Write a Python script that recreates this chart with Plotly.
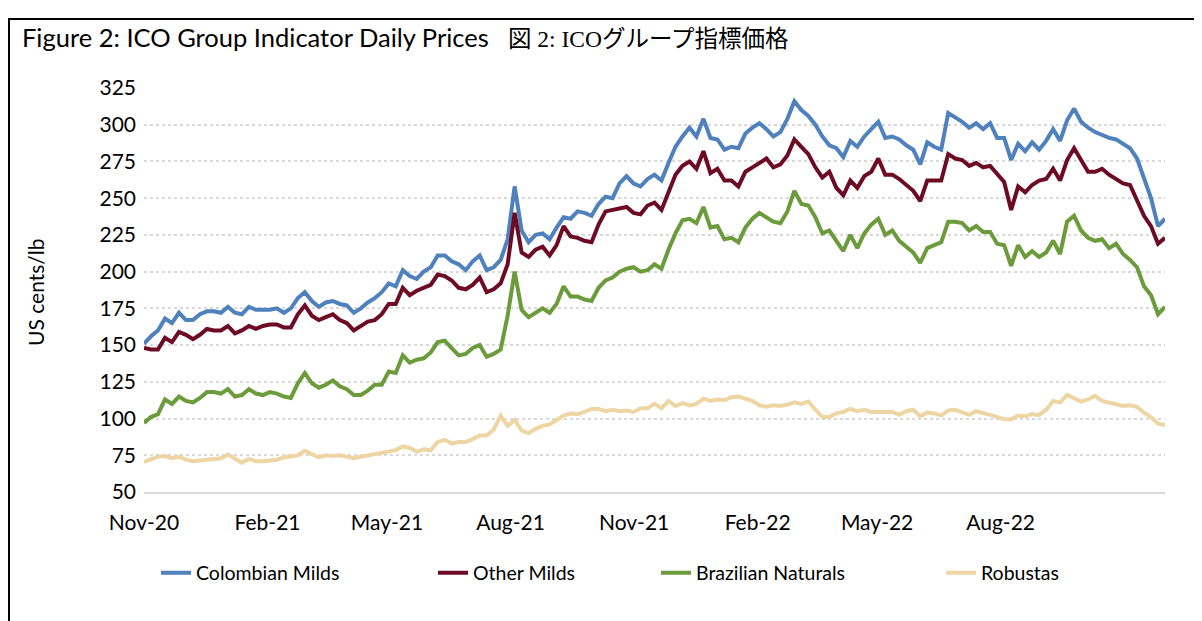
import pandas as pd
import plotly.graph_objects as go

# ---- data (US cents/lb), one reading every 125 hours from 1 Nov 2020 ----
start_date = "2020-11-01"
step = "125h"

colombian_milds = [
    151, 156, 160, 168, 165, 172, 167, 167, 171, 173, 173, 172, 176, 172, 171, 176, 174, 174, 174, 175,
    172, 175, 182, 186, 180, 176, 179, 180, 178, 177,
    172, 175, 179, 182, 186, 192, 190, 201, 197, 195, 200, 203, 211, 211, 207, 205, 201, 207, 211, 201,
    203, 208, 222, 258, 228, 220, 225, 226, 222, 230,
    237, 236, 241, 240, 238, 246, 251, 250, 260, 265, 260, 258, 263, 266, 262, 274, 285, 292, 298, 292,
    304, 291, 290, 283, 285, 284, 294, 298, 301, 297,
    292, 295, 304, 316, 310, 306, 300, 292, 286, 284, 278, 289, 285, 292, 297, 302, 291, 292, 290, 286,
    283, 273, 288, 285, 283, 308, 305, 302, 298, 301,
    297, 301, 291, 291, 276, 287, 282, 288, 283, 289, 297, 289, 303, 311, 302, 298, 295, 293, 291, 290,
    287, 284, 277, 263, 250, 231, 236,
]

other_milds = [
    148, 147, 147, 155, 152, 159, 157, 154, 157, 161, 160, 160, 163, 158, 160, 163, 161, 163, 164, 164,
    162, 162, 171, 177, 170, 167, 169, 171, 167, 165,
    160, 163, 166, 167, 171, 178, 178, 189, 184, 187, 189, 191, 198, 197, 194, 189, 188, 191, 196, 186,
    188, 192, 205, 240, 213, 210, 215, 217, 211, 218,
    231, 224, 223, 221, 220, 232, 241, 242, 243, 244, 240, 239, 245, 247, 242, 255, 266, 272, 275, 270,
    282, 267, 270, 262, 262, 258, 268, 271, 274, 277,
    271, 273, 279, 290, 285, 280, 271, 264, 268, 257, 252, 262, 257, 265, 268, 277, 266, 266, 263, 259,
    255, 248, 262, 262, 262, 280, 277, 276, 272, 274,
    271, 272, 267, 261, 242, 258, 254, 259, 262, 263, 270, 262, 276, 284, 276, 268, 268, 270, 266, 263,
    260, 259, 248, 238, 231, 219, 223,
]

brazilian_naturals = [
    97, 101, 103, 113, 110, 115, 112, 111, 114, 118, 118, 117, 120, 115, 116, 120, 117, 116, 118, 117,
    115, 114, 124, 131, 124, 121, 123, 126, 122, 120,
    116, 116, 119, 123, 123, 132, 131, 143, 138, 140, 141, 145, 152, 153, 148, 143, 144, 148, 150, 142,
    144, 147, 170, 200, 174, 169, 172, 175, 172, 178,
    190, 183, 183, 181, 180, 189, 194, 196, 200, 202, 203, 200, 201, 205, 202, 215, 226, 235, 236, 233,
    244, 230, 231, 222, 223, 220, 230, 236, 240, 237,
    234, 233, 241, 255, 246, 245, 237, 226, 228, 221, 214, 225, 216, 226, 232, 236, 225, 228, 221, 217,
    213, 206, 216, 218, 220, 234, 234, 233, 228, 231,
    227, 227, 219, 218, 204, 218, 210, 214, 210, 213, 221, 212, 234, 238, 228, 223, 221, 222, 216, 219,
    212, 208, 203, 190, 184, 171, 176,
]

robustas = [
    70.5, 72, 74, 74.5, 73, 74, 72, 71, 71.5, 72.5, 73, 73, 75.5, 72.5, 70, 72.5, 71, 71, 71.5, 72,
    73.5, 74, 75, 78, 75.5, 73.5, 75, 74.5, 75, 74,
    73, 74, 75, 75.5, 76.5, 78, 78.5, 81, 80, 77.5, 79, 78.5, 84, 85.5, 83, 84, 84, 86, 88.5, 88.5,
    92.5, 102, 95, 99, 92, 90, 93, 95, 96, 99,
    102, 103.5, 103, 104.5, 106.5, 106.5, 105, 106, 105, 105.5, 104.5, 107, 107, 110, 107, 112, 108.5, 110.5, 109, 110,
    113.5, 112, 113, 112.5, 114.5, 115, 113.5, 112, 109, 108,
    109, 108.5, 109.5, 111, 110, 111.5, 106, 101, 101, 103.5, 104.5, 106.5, 105, 106, 104.5, 104.5, 104, 104.5, 102.5, 105,
    106, 101.5, 104, 103.5, 102, 105.5, 106, 104.5, 102.5, 105,
    104, 102.5, 101, 99.5, 99.5, 102, 101.5, 103, 102.5, 106, 112, 111, 116, 114, 111.5, 113, 115.5, 112, 111, 110,
    108.5, 109, 108, 104, 101, 96.5, 95.5,
]

series_names = ["Colombian Milds", "Other Milds", "Brazilian Naturals", "Robustas"]
series_values = [colombian_milds, other_milds, brazilian_naturals, robustas]
series_colors = ["#4F81BD", "#6E0B24", "#6B9B3A", "#EDD6A3"]

x_tick_dates = ["2020-11-01", "2021-02-01", "2021-05-01", "2021-08-01",
                "2021-11-01", "2022-02-01", "2022-05-01", "2022-08-01"]
x_tick_labels = ["Nov-20", "Feb-21", "May-21", "Aug-21", "Nov-21", "Feb-22", "May-22", "Aug-22"]
y_ticks = [50, 75, 100, 125, 150, 175, 200, 225, 250, 275, 300, 325]

dates = pd.date_range(start_date, periods=len(colombian_milds), freq=step)

FONT = "Lato, 'Open Sans', sans-serif"

W, H = 1202, 621
OFF = 8  # page offset of the plot div
L, R, T, B = 136, 45, 80, 137
pw, ph = W - L - R, H - T - B


def px(xs):
    return (xs - OFF - L) / pw


def py(ys):
    return (H - B - (ys - OFF)) / ph


legend_x_screen = [156, 433, 656, 941]

fig = go.Figure()
for k, (name, vals, col) in enumerate(zip(series_names, series_values, series_colors)):
    fig.add_trace(go.Scatter(x=dates, y=vals, mode="lines", name=name,
                             legend="legend" if k == 0 else f"legend{k + 1}",
                             line=dict(color=col, width=4)))

legend_common = dict(orientation="h", xanchor="left", yanchor="middle", y=py(573),
                     font=dict(size=19.5, family=FONT, color="#000000"),
                     bgcolor="rgba(0,0,0,0)", borderwidth=0)
legends = {}
for k, xs in enumerate(legend_x_screen):
    key = "legend" if k == 0 else f"legend{k + 1}"
    legends[key] = dict(legend_common, x=px(xs))

fig.update_layout(
    width=W, height=H,
    margin=dict(l=L, r=R, t=T, b=B, autoexpand=False),
    paper_bgcolor="white", plot_bgcolor="white",
    font=dict(family=FONT, size=21, color="#000000"),
    showlegend=True,
    xaxis=dict(type="date", range=[start_date, dates[-1]],
               tickvals=x_tick_dates, ticktext=x_tick_labels,
               showgrid=False, zeroline=False, ticks="",
               showline=True, linecolor="#D9D9D9", linewidth=2,
               ticklabelstandoff=11, tickfont=dict(size=21)),
    yaxis=dict(range=[50, 325], tickvals=y_ticks, showgrid=True,
               gridcolor="#D9D9D9", gridwidth=2, griddash="3px,3px",
               zeroline=False, showline=False, ticks="",
               ticklabelstandoff=7, tickfont=dict(size=21)),
    annotations=[
        dict(text="Figure 2: ICO Group Indicator Daily Prices", xref="paper", yref="paper",
             x=px(20), y=py(37), xanchor="left", yanchor="middle", showarrow=False,
             font=dict(size=25.5, family=FONT, color="#000000")),
        dict(text="図 2: ICOグループ指標価格", xref="paper", yref="paper",
             x=px(506), y=py(39), xanchor="left", yanchor="middle", showarrow=False,
             font=dict(size=23.5, family="'Liberation Serif', 'Noto Sans CJK JP', serif", color="#000000")),
        dict(text="US cents/lb", xref="paper", yref="paper", textangle=-90,
             x=px(35), y=py(292), xanchor="center", yanchor="middle", showarrow=False,
             font=dict(size=21, family=FONT, color="#000000")),
    ],
    shapes=[
        dict(type="rect", xref="paper", yref="paper",
             x0=px(9), x1=px(1199), y0=py(660), y1=py(19),
             line=dict(color="#000000", width=2), fillcolor="rgba(0,0,0,0)", layer="below"),
    ],
    **legends,
)

fig.write_html("out.html")
